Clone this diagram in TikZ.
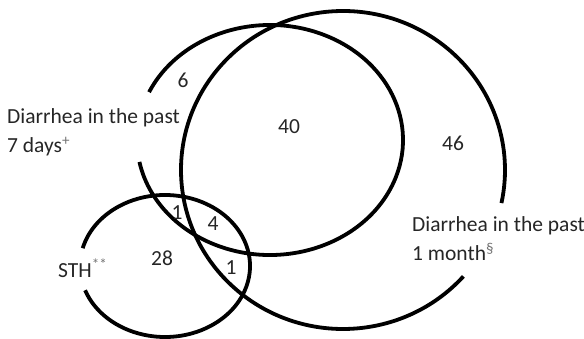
\documentclass[tikz,border=0pt]{standalone}
\usepackage{fontspec}
\setmainfont{Carlito}
\begin{document}
\begin{tikzpicture}[x=1pt,y=-1pt,
  venn/.style={line width=3.8pt, black},
  lbl/.style={inner sep=0pt, text=black!85, font=\fontsize{21.5}{29.5}\selectfont, align=left},
  num/.style={inner sep=0pt, text=black!85, font=\fontsize{21.5}{25}\selectfont}]
\useasboundingbox (0,0) rectangle (584,339);
% centres
\coordinate (c1) at (270,140);
\coordinate (c2) at (343,170);
\coordinate (c3) at (165,266);
% 7 days
\draw[venn] (c1) ++(204.6:133 and 115) arc[start angle=204.6, end angle=529, x radius=133, y radius=115];
% 1 month
\draw[venn] (c2) ++(42:162 and 159) arc[start angle=42, end angle=372, x radius=162, y radius=159];
% STH
\draw[venn] (c3) ++(194.5:85 and 71) arc[start angle=194.5, end angle=520, x radius=85, y radius=71];
% labels (anchor at the baseline of the last line)
\node[lbl, anchor=base west] (l7) at (7,153) {Diarrhea in the past\\7 days\textsuperscript{\color{black!55}+}};
\node[lbl, anchor=base west] (l1) at (412,261) {Diarrhea in the past\\1 month\textsuperscript{\color{black!55}\S}};
\node[lbl, anchor=base west] (ls) at (58,277) {STH\textsuperscript{\color{black!55}**}};
% numbers
\node[num] (n6) at (183,80) {6};
\node[num] (n40) at (289,127) {40};
\node[num] (n46) at (453,143) {46};
\node[num] (n1a) at (177,213) {1};
\node[num] (n4) at (213,224) {4};
\node[num] (n28) at (162,258) {28};
\node[num] (n1b) at (231,268) {1};
\end{tikzpicture}
\end{document}
